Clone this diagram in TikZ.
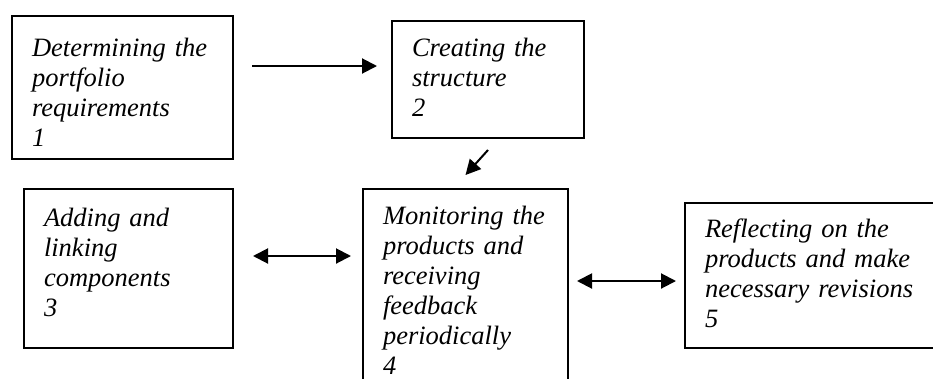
\documentclass[tikz,border=0pt]{standalone}
\usepackage{fontspec}
\setmainfont{Liberation Serif}
\usetikzlibrary{arrows.meta}

\begin{document}
\begin{tikzpicture}[x=1pt,y=-1pt,>={Triangle[length=15pt,width=15pt]},line width=2pt,
    stage node/.style={rectangle,draw,anchor=north west,align=left,inner xsep=20pt,inner ysep=0pt,font=\itshape\fontsize{26.5}{30}\selectfont}]
    \useasboundingbox (0,0) rectangle (933,378);

            \node[stage node,text width=181pt,text height=40pt,text depth=103pt] (1) at (11,15) {Determining the\\portfolio\\requirements\\1};
            \node[stage node,text width=152pt,text height=35pt,text depth=82pt] (2) at (391,20) {Creating the\\structure\\2};
            \node[stage node,text width=169pt,text height=37pt,text depth=122pt] (3) at (23,188) {Adding and\\linking\\components\\3};
            \node[stage node,text width=165pt,text height=35pt,text depth=177pt] (4) at (362,188) {Monitoring the\\products and\\receiving\\feedback\\periodically\\4};
            \node[stage node,text width=226pt,text height=34pt,text depth=111pt] (5) at (684,202) {Reflecting on the\\products and make\\necessary revisions\\5};

            \path[->]
                (1.east |- 0,66) edge[shorten <=18pt,shorten >=14pt] (2.west |- 0,66)
                ([yshift=-11pt]2.south) edge ([yshift=13pt]4.north)
            ;
            \path[<->]
                (3.east |- 0,256) edge[shorten <=19pt,shorten >=11pt] (4.west |- 0,256)
                (4.east |- 0,281) edge[shorten <=8pt,shorten >=8pt] (5.west |- 0,281)
            ;
        \end{tikzpicture}
\end{document}
